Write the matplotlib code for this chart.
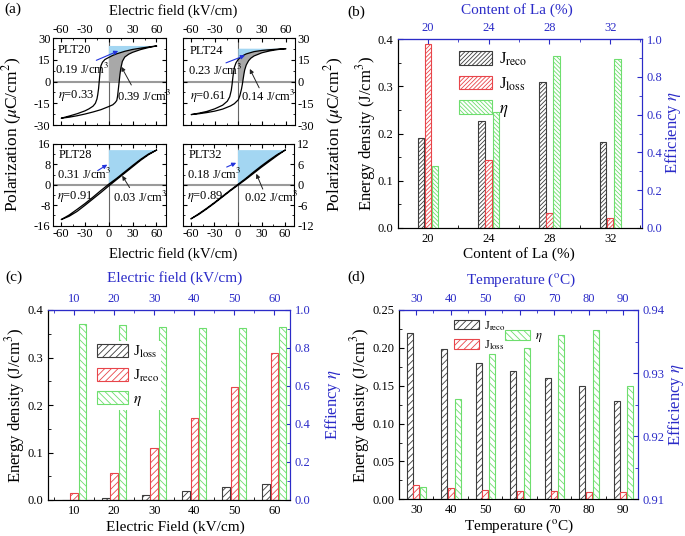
import numpy as np
import matplotlib
matplotlib.use("Agg")
import matplotlib.pyplot as plt
from matplotlib.ticker import MultipleLocator, FormatStrFormatter

plt.rcParams["font.family"] = ["Liberation Serif", "DejaVu Serif"]
plt.rcParams["mathtext.fontset"] = "stix"
plt.rcParams["axes.unicode_minus"] = False
plt.rcParams["hatch.linewidth"] = 0.6

W, H = 685, 536
BLUE = "#2b2bc8"
LIGHT_BLUE = "#a3d6f2"
LOSS_GRAY = "#a8a8a8"
BAR_GRAY = "#3c3c3c"
BAR_RED = "#e8454a"
BAR_GREEN = "#6ede6e"

# ---- (a) P-E loops (E in kV/cm, P in uC/cm2) ----
PLT20_UP_E = [60, 50, 40, 30, 20, 10, 5, 0, -5, -8, -10, -11, -12, -13, -14, -15, -17, -20, -25, -30, -40, -50, -60]
PLT20_UP_P = [24.7, 24.0, 23.2, 22.3, 21.0, 19.3, 18.2, 16.8, 15.3, 13.5, 11.0, 7.0, 1.0, -5.0, -9.0, -12.0, -15.0, -17.0, -18.8, -20.2, -22.2, -23.8, -25.3]
PLT20_DN_E = [-60, -50, -40, -30, -20, -10, 0, 5, 8, 10, 11, 12, 13, 14, 15, 17, 20, 25, 30, 40, 50, 60]
PLT20_DN_P = [-25.3, -24.6, -23.6, -22.4, -21.0, -19.4, -17.2, -16.0, -14.5, -13.0, -10.0, -5.0, 0.0, 5.0, 9.0, 14.0, 17.0, 19.0, 20.3, 22.2, 23.6, 24.7]

PLT24_UP_E = [60, 50, 40, 30, 20, 10, 5, 0, -3, -5, -6, -7, -8, -9, -11, -14, -20, -30, -40, -50, -60]
PLT24_UP_P = [22.8, 22.5, 22.1, 21.6, 20.8, 19.2, 17.8, 15.5, 13.0, 10.0, 7.0, 3.0, -2.0, -6.0, -10.5, -13.5, -16.3, -18.8, -20.6, -21.8, -22.8]
PLT24_DN_E = [-60, -50, -40, -30, -20, -10, -5, 0, 2, 4, 5, 6, 7, 8, 10, 13, 16, 20, 30, 40, 50, 60]
PLT24_DN_P = [-22.8, -22.2, -21.4, -20.4, -19.0, -16.8, -15.2, -12.5, -9.5, -5.0, -2.0, 1.5, 5.0, 8.0, 11.5, 14.5, 16.3, 17.8, 20.0, 21.3, 22.2, 22.8]

PLT28_UP_E = [60, 50, 40, 30, 20, 10, 0, -10, -20, -30, -40, -50, -60]
PLT28_UP_P = [13.6, 12.1, 10.0, 7.6, 5.1, 2.6, 0.3, -2.2, -4.8, -7.3, -9.6, -11.8, -13.6]
PLT28_DN_E = [-60, -50, -40, -30, -20, -10, 0, 10, 20, 30, 40, 50, 60]
PLT28_DN_P = [-13.6, -12.3, -10.4, -8.0, -5.5, -3.0, -0.4, 2.1, 4.6, 7.1, 9.6, 11.8, 13.6]

PLT32_UP_E = [60, 50, 40, 30, 20, 10, 0, -10, -20, -30, -40, -50, -60]
PLT32_UP_P = [10.2, 8.9, 7.3, 5.6, 3.8, 1.9, 0.15, -1.6, -3.4, -5.2, -6.9, -8.5, -10.0]
PLT32_DN_E = [-60, -50, -40, -30, -20, -10, 0, 10, 20, 30, 40, 50, 60]
PLT32_DN_P = [-10.0, -8.7, -7.1, -5.4, -3.6, -1.8, -0.1, 1.6, 3.4, 5.2, 6.9, 8.6, 10.2]

SAMPLES = ["PLT20", "PLT24", "PLT28", "PLT32"]
RECO_TXT = ["0.19", "0.23", "0.31", "0.18"]
LOSS_TXT = ["0.39", "0.14", "0.03", "0.02"]
ETA_TXT = ["0.33", "0.61", "0.91", "0.89"]

# ---- (b) vs La content ----
LA_CONTENT = ["20", "24", "28", "32"]
B_J_RECO = [0.190, 0.226, 0.310, 0.181]
B_J_LOSS = [0.389, 0.144, 0.032, 0.022]
B_ETA = [0.328, 0.612, 0.910, 0.893]

# ---- (c) vs electric field ----
FIELD = ["10", "20", "30", "40", "50", "60"]
C_J_LOSS = [0.001, 0.005, 0.010, 0.018, 0.027, 0.034]
C_J_RECO = [0.015, 0.056, 0.109, 0.173, 0.237, 0.310]
C_ETA = [0.926, 0.923, 0.912, 0.905, 0.904, 0.911]

# ---- (d) vs temperature ----
TEMP = ["30", "40", "50", "60", "70", "80", "90"]
D_J_RECO = [0.219, 0.199, 0.180, 0.169, 0.160, 0.150, 0.130]
D_J_LOSS = [0.019, 0.015, 0.012, 0.011, 0.0106, 0.0092, 0.0097]
D_ETA = [0.9119, 0.9259, 0.9330, 0.9339, 0.9360, 0.9369, 0.9280]

fig = plt.figure(figsize=(W / 100, H / 100), dpi=100)


def add_ax(left, top, right, bottom):
    return fig.add_axes([left / W, 1 - bottom / H, (right - left) / W, (bottom - top) / H])


def fig_text(x, y, s, **kw):
    # x, y in picture pixels from the top-left corner
    kw.setdefault("ha", "center")
    kw.setdefault("va", "center")
    return fig.text(x / W, 1 - y / H, s, **kw)


def draw_loop(ax, up_e, up_p, dn_e, dn_p):
    ax.axhline(0, color="#9a9a9a", lw=1.5, zorder=1)
    ax.axvline(0, color="#666666", lw=0.8, zorder=1)
    q1 = [(e, p) for e, p in zip(up_e, up_p) if e >= 0]
    blue = [(0, up_p[0])] + q1
    ax.fill([v[0] for v in blue], [v[1] for v in blue], color=LIGHT_BLUE, lw=0, zorder=2)
    lo = [(e, max(p, 0)) for e, p in zip(dn_e, dn_p) if e >= 0]
    gray = [(0, 0)] + lo + q1
    ax.fill([v[0] for v in gray], [v[1] for v in gray], color=LOSS_GRAY, lw=0, zorder=2)
    ax.plot(list(up_e) + list(dn_e), list(up_p) + list(dn_p), color="black", lw=0.9, zorder=3)


loops = [
    (PLT20_UP_E, PLT20_UP_P, PLT20_DN_E, PLT20_DN_P),
    (PLT24_UP_E, PLT24_UP_P, PLT24_DN_E, PLT24_DN_P),
    (PLT28_UP_E, PLT28_UP_P, PLT28_DN_E, PLT28_DN_P),
    (PLT32_UP_E, PLT32_UP_P, PLT32_DN_E, PLT32_DN_P),
]
boxes = [(53.3, 38.3, 166, 125), (183.3, 38.3, 295, 125),
         (53.3, 144, 166, 225.7), (183, 144, 294.5, 225.7)]
ylims = [30, 30, 16, 12]
txt_pos = [
    [(0.04, 0.86), (0.015, 0.646), (0.04, 0.337), (0.565, 0.335)],
    [(0.06, 0.856), (0.045, 0.63), (0.06, 0.33), (0.52, 0.33)],
    [(0.045, 0.865), (0.03, 0.627), (0.03, 0.355), (0.53, 0.35)],
    [(0.05, 0.865), (0.033, 0.63), (0.033, 0.355), (0.546, 0.35)],
]
blue_arrows = [((-19, 14), (15, 22)), ((-19, 12.3), (11.6, 18.8)),
               ((-17, 5), (1, 8.5)), ((-17.6, 4.9), (1, 6.8))]
black_arrows = [((30, -4), (14, 12)), ((28, -6), (13, 10.5)),
                ((28, -2), (15, 4.5)), ((33, -2), (22, 4))]

for i, (loop, box) in enumerate(zip(loops, boxes)):
    ax = add_ax(*box)
    draw_loop(ax, *loop)
    ax.set_xlim(-70, 72)
    ax.set_ylim(-ylims[i], ylims[i])
    ax.set_xticks([-60, -30, 0, 30, 60])
    ax.set_yticks(np.linspace(-ylims[i], ylims[i], 5))
    ax.yaxis.set_major_formatter(FormatStrFormatter("%d"))
    ax.xaxis.set_minor_locator(MultipleLocator(15))
    ax.yaxis.set_minor_locator(MultipleLocator(ylims[i] / 4))
    top_row = i < 2
    left_col = i % 2 == 0
    ax.tick_params(which="both", direction="in", top=True, right=True, labelsize=9,
                   labeltop=top_row, labelbottom=not top_row,
                   labelleft=left_col, labelright=not left_col, pad=2)
    ax.tick_params(which="major", length=3)
    ax.tick_params(which="minor", length=1.5)
    p = txt_pos[i]
    kw = dict(transform=ax.transAxes, fontsize=9, va="center", ha="left", zorder=5)
    ax.text(*p[0], SAMPLES[i], **kw)
    ax.text(*p[1], RECO_TXT[i] + r" J/cm$^3$", **kw)
    ax.text(*p[2], r"$\eta$=" + ETA_TXT[i], **kw)
    ax.text(*p[3], LOSS_TXT[i] + r" J/cm$^3$", **kw)
    ax.annotate("", xy=blue_arrows[i][1], xytext=blue_arrows[i][0],
                arrowprops=dict(arrowstyle="-|>", color="#2233dd", lw=0.8, mutation_scale=6), zorder=6)
    ax.annotate("", xy=black_arrows[i][1], xytext=black_arrows[i][0],
                arrowprops=dict(arrowstyle="-|>", color="#222222", lw=0.7, mutation_scale=6), zorder=6)

fig_text(173, 11, "Electric field (kV/cm)", fontsize=10.5)
fig_text(173, 254, "Electric field (kV/cm)", fontsize=10.5)
fig_text(12, 134, r"Polarization ($\mu$C/cm$^2$)", rotation=90, fontsize=12.5)
fig_text(334, 134, r"Polarization ($\mu$C/cm$^2$)", rotation=90, fontsize=12.5)


def bar_panel(box, cats, series, offsets, width, hatches, colors, xlim, ylim_l, ylim_r,
              lstep, rstep, lfmt, rfmt, labels, label_px):
    ax = add_ax(*box)
    x = np.arange(len(cats))
    ax2 = ax.twinx()
    bars = []
    for k, (vals, off, hatch, col) in enumerate(zip(series, offsets, hatches, colors)):
        target = ax2 if k == 2 else ax
        bars.append(target.bar(x + off, vals, width, facecolor="white", edgecolor=col,
                               hatch=hatch, lw=0.8, zorder=2))
    ax.set_xlim(*xlim)
    ax.set_ylim(*ylim_l)
    ax2.set_ylim(*ylim_r)
    ax.set_xticks(x, cats)
    ax.xaxis.set_minor_locator(MultipleLocator(0.5))
    ax.yaxis.set_major_locator(MultipleLocator(lstep))
    ax.yaxis.set_minor_locator(MultipleLocator(lstep / 2))
    ax.yaxis.set_major_formatter(FormatStrFormatter(lfmt))
    ax2.yaxis.set_major_locator(MultipleLocator(rstep))
    ax2.yaxis.set_minor_locator(MultipleLocator(rstep / 2))
    ax2.yaxis.set_major_formatter(FormatStrFormatter(rfmt))
    ax.tick_params(which="both", direction="in", top=False, right=False, labelsize=9)
    ax.tick_params(which="major", length=3.5)
    ax.tick_params(which="minor", length=2)
    ax2.tick_params(which="both", direction="in", colors=BLUE, labelsize=9)
    ax2.tick_params(which="major", length=3.5)
    ax2.tick_params(which="minor", length=2)
    sec = ax.secondary_xaxis("top")
    sec.set_xticks(x, cats)
    sec.xaxis.set_minor_locator(MultipleLocator(0.5))
    sec.tick_params(which="both", direction="in", colors=BLUE, labelsize=9)
    sec.tick_params(which="major", length=3.5)
    sec.tick_params(which="minor", length=2)
    for a in (ax, ax2):
        a.spines["top"].set_color(BLUE)
        a.spines["right"].set_color(BLUE)
    sec.spines["top"].set_color(BLUE)
    xlabel, toplabel, rlabel = labels
    (bx, by), (tx, ty), (lx, ly), (rx, ry) = label_px
    fig_text(bx, by, xlabel, fontsize=11)
    fig_text(tx, ty, toplabel, fontsize=11, color=BLUE)
    fig_text(lx, ly, r"Energy density (J/cm$^3$)", fontsize=12, rotation=90)
    fig_text(rx, ry, rlabel, fontsize=12, rotation=90, color=BLUE)
    return ax, ax2, bars


# (b)
axb, axb2, bb = bar_panel((398.3, 39, 641.7, 228), LA_CONTENT, [B_J_RECO, B_J_LOSS, B_ETA],
                          [-0.118, 0, 0.118], 0.108, ["////////", "////////", "\\\\\\\\\\\\\\\\"],
                          [BAR_GRAY, BAR_RED, BAR_GREEN], (-0.49, 3.52), (0, 0.4), (0, 1.0),
                          0.1, 0.2, "%.1f", "%.1f",
                          ("Content of La (%)", "Content of La (%)", r"Efficiency $\eta$"),
                          [(519, 254), (517, 10), (366, 133), (673, 133)])
axb2.legend([bb[0], bb[1], bb[2]], [r"J$_{\rm reco}$", r"J$_{\rm loss}$", r"$\eta$"],
            loc="upper left", bbox_to_anchor=(0.2, 1.0), frameon=False, fontsize=12,
            handlelength=2.0, handleheight=0.85, labelspacing=0.45, handletextpad=0.4,
            borderpad=0.2)

# (c)
axc, axc2, cb = bar_panel((48, 310, 290, 500), FIELD, [C_J_LOSS, C_J_RECO, C_ETA],
                          [-0.205, 0, 0.21], 0.185, ["/////", "/////", "\\\\\\\\\\"],
                          [BAR_GRAY, BAR_RED, BAR_GREEN], (-0.65, 5.39), (0, 0.4), (0, 1.0),
                          0.1, 0.2, "%.1f", "%.1f",
                          ("Electric Field (kV/cm)", "Electric field (kV/cm)", r"Effiency $\eta$"),
                          [(175, 527), (175, 278), (15, 405), (333, 405)])
axc2.legend([cb[0], cb[1], cb[2]], [r"J$_{\rm loss}$", r"J$_{\rm reco}$", r"$\eta$"],
            loc="upper left", bbox_to_anchor=(0.16, 0.875), frameon=True, facecolor="white",
            edgecolor="none", framealpha=1, fancybox=False, fontsize=11,
            handlelength=2.05, handleheight=0.95, labelspacing=0.5, handletextpad=0.3,
            borderpad=0.15)

# (d)
axd, axd2, db = bar_panel((399, 310, 638, 499.3), TEMP, [D_J_RECO, D_J_LOSS, D_ETA],
                          [-0.19, 0, 0.2], 0.17, ["/////", "/////", "\\\\\\\\\\"],
                          [BAR_GRAY, BAR_RED, BAR_GREEN], (-0.5, 6.43), (0, 0.25), (0.91, 0.94),
                          0.05, 0.01, "%.2f", "%.2f",
                          (r"Temperature ($^{\rm o}$C)", r"Temperature ($^{\rm o}$C)", r"Efficiency $\eta$"),
                          [(519, 526), (521, 280), (360, 405), (676, 405)])
leg_d = axd2.legend([db[0], db[1]], [r"J$_{\rm reco}$", r"J$_{\rm loss}$"],
                    loc="upper left", bbox_to_anchor=(0.195, 1.0), frameon=False, fontsize=9,
                    handlelength=2.0, handleheight=0.8, labelspacing=0.45, handletextpad=0.4,
                    borderpad=0.2)
axd2.add_artist(leg_d)
axd2.legend([db[2]], [r"$\eta$"], loc="upper left", bbox_to_anchor=(0.405, 0.94), frameon=False,
            fontsize=9, handlelength=2.0, handleheight=0.8, handletextpad=0.4, borderpad=0.2)

for lbl, x, y in [("(a)", 4, 9), ("(b)", 347, 12), ("(c)", 5, 277), ("(d)", 347, 277)]:
    fig.text(x / W, 1 - y / H, lbl, fontsize=11, ha="left", va="center")

fig.savefig("out.png", dpi=100)
